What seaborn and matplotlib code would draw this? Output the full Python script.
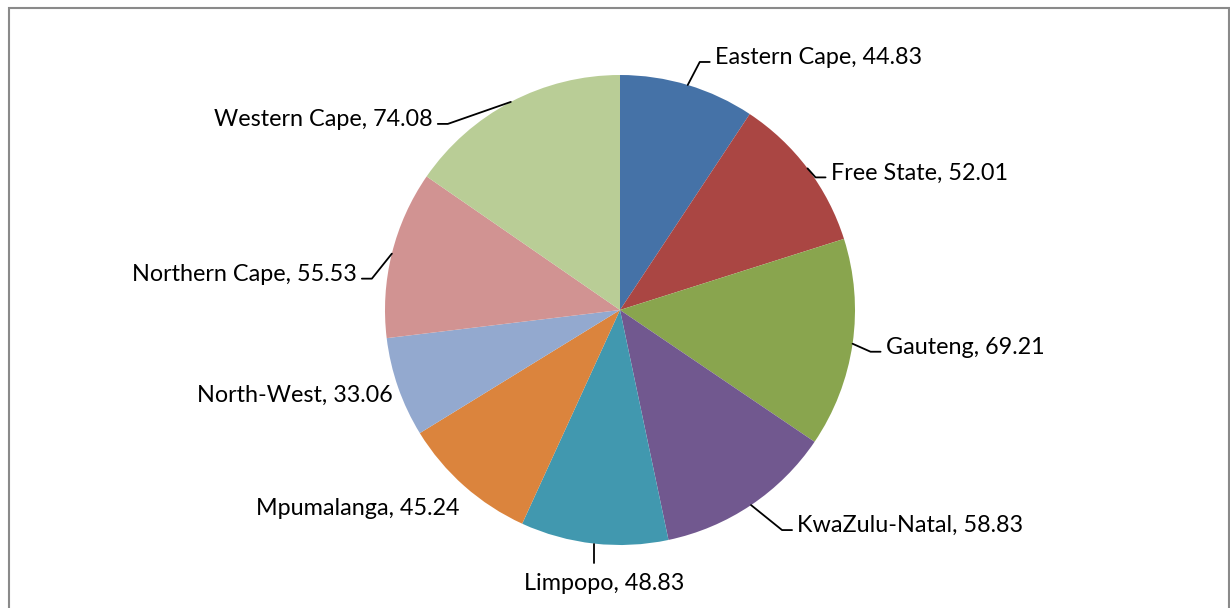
"""Pie chart: values by province, Excel-style leader labels."""

import numpy as np
import matplotlib
matplotlib.use("Agg")
from matplotlib import pyplot as plt
import seaborn as sns

###########
# Data    #
###########
provinces = ['Eastern Cape', 'Free State', 'Gauteng', 'KwaZulu-Natal', 'Limpopo',
             'Mpumalanga', 'North-West', 'Northern Cape', 'Western Cape']
values = [44.83, 52.01, 69.21, 58.83, 48.83, 45.24, 33.06, 55.53, 74.08]

colors = ['#4572A7', '#AA4643', '#89A54E', '#71588F', '#4198AF',
          '#DB843D', '#93A9CF', '#D19392', '#B9CD96']

# label placement (pixel offset from wedge's outer midpoint, leader on/off)
label_offset = [(27, -30), (23, 2), (33, 1), (46, 18), (10, 37),
                (-5, 20), (-5, 5), (-35, 18), (-78, 15)]
has_leader = [True, True, True, True, True, False, False, True, True]

###########
# Style   #
###########
sns.set_style('white')
plt.rcParams['font.family'] = ['Lato', 'DejaVu Sans']
plt.rcParams['text.color'] = 'black'

W, H = 1230, 608
cx, cy, R = 620, 310, 235   # pie centre / radius in pixels

fig = plt.figure(figsize=(W / 100, H / 100), dpi=100)
ax = fig.add_axes([0, 0, 1, 1])

# chart border
fig.patches.append(plt.Rectangle((9 / W, -0.01), (1229 - 9) / W, (H - 8) / H + 0.01,
                                 transform=fig.transFigure, fill=False,
                                 edgecolor='#8a8a8a', linewidth=1.5))

wedges, _ = ax.pie(values, colors=sns.color_palette(colors), startangle=90,
                   counterclock=False, radius=1,
                   wedgeprops=dict(linewidth=0))

# pie() resets the limits, so set them afterwards
ax.set_xlim(-cx / R, (W - cx) / R)
ax.set_ylim((cy - H) / R, cy / R)
ax.set_aspect('equal')
ax.axis('off')

#############
# Labels    #
#############
fs = 16.8
px = 1 / R  # one pixel in data units
for w, name, val, (dx, dy), lead in zip(wedges, provinces, values,
                                        label_offset, has_leader):
    mid = np.deg2rad((w.theta1 + w.theta2) / 2)
    x0, y0 = np.cos(mid), np.sin(mid)
    tx, ty = x0 + dx * px, y0 - dy * px
    label = f"{name}, {val:.2f}"
    text_y = ty - 2.5 * px  # Lato sits a touch higher than Calibri

    if abs(x0) < 0.2:
        # bottom label: straight down
        if lead:
            ax.plot([x0, x0], [y0, ty + 18 * px], color='black', lw=1.3)
        ax.text(tx, text_y, label, ha='center', va='center', fontsize=fs)
        continue

    side = 1 if x0 > 0 else -1
    if lead:
        ey = ty - 7 * px
        ax.plot([x0, tx - side * 15 * px, tx - side * 5 * px], [y0, ey, ey],
                color='black', lw=1.3)
    ax.text(tx, text_y, label, ha='left' if side > 0 else 'right',
            va='center', fontsize=fs)

plt.savefig('out.png', dpi=100)
